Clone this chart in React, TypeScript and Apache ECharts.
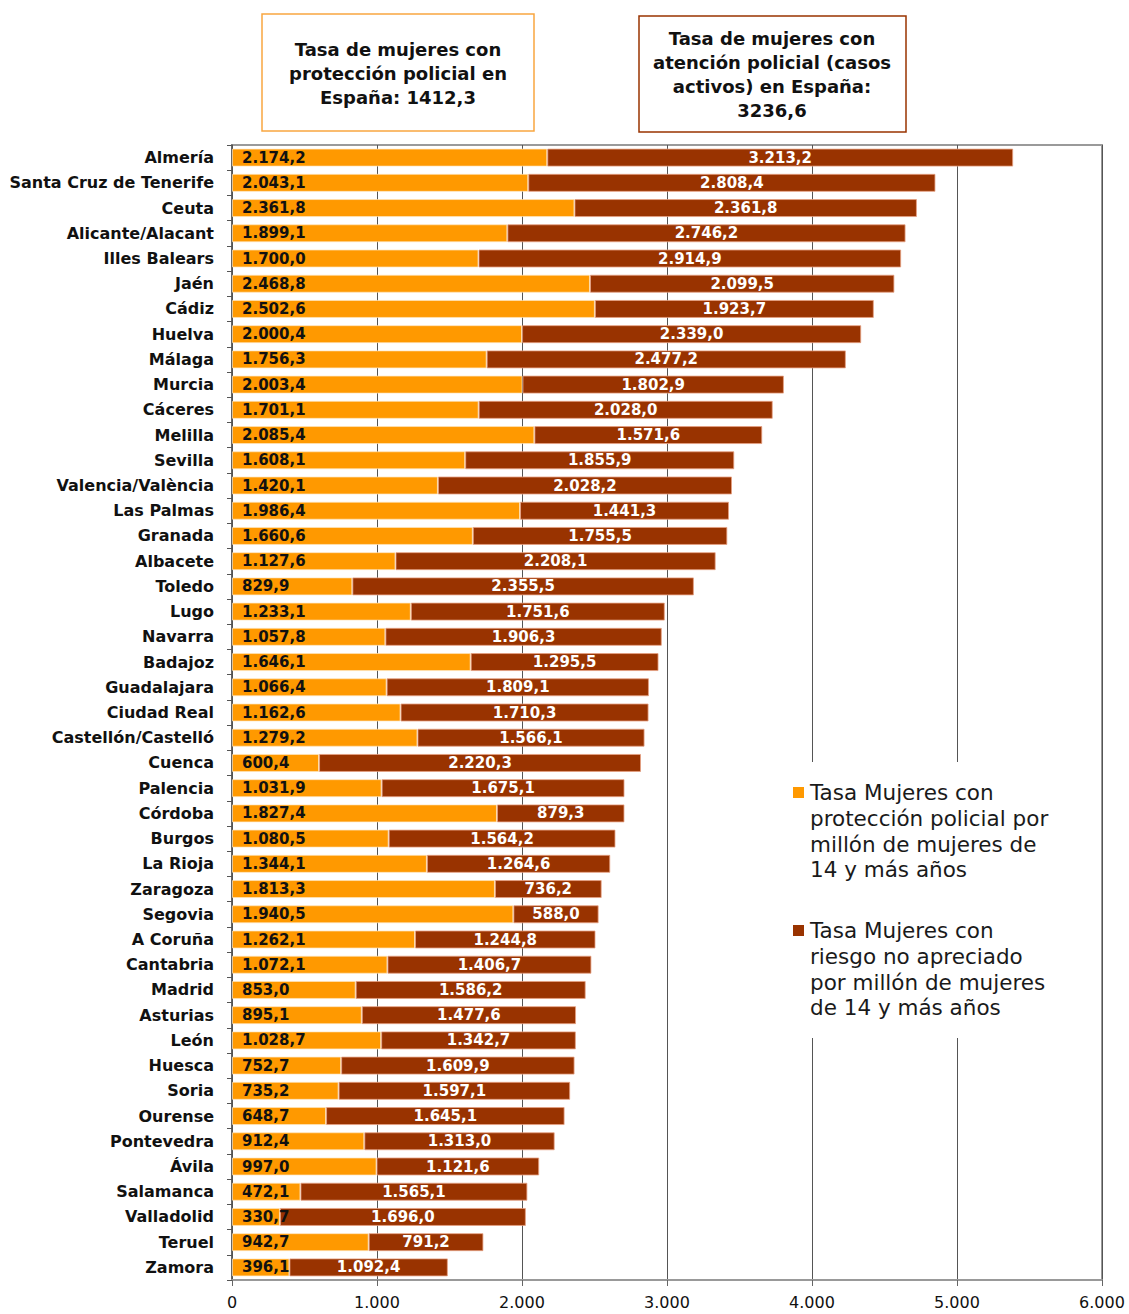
import React, { useEffect, useRef } from "react";
import * as echarts from "echarts";

const categories = [
  "Almería", "Santa Cruz de Tenerife", "Ceuta", "Alicante/Alacant", "Illes Balears",
  "Jaén", "Cádiz", "Huelva", "Málaga", "Murcia", "Cáceres", "Melilla", "Sevilla",
  "Valencia/València", "Las Palmas", "Granada", "Albacete", "Toledo", "Lugo", "Navarra",
  "Badajoz", "Guadalajara", "Ciudad Real", "Castellón/Castelló", "Cuenca", "Palencia",
  "Córdoba", "Burgos", "La Rioja", "Zaragoza", "Segovia", "A Coruña", "Cantabria",
  "Madrid", "Asturias", "León", "Huesca", "Soria", "Ourense", "Pontevedra", "Ávila",
  "Salamanca", "Valladolid", "Teruel", "Zamora",
];

const proteccion = [
  2174.2, 2043.1, 2361.8, 1899.1, 1700.0, 2468.8, 2502.6, 2000.4, 1756.3, 2003.4,
  1701.1, 2085.4, 1608.1, 1420.1, 1986.4, 1660.6, 1127.6, 829.9, 1233.1, 1057.8,
  1646.1, 1066.4, 1162.6, 1279.2, 600.4, 1031.9, 1827.4, 1080.5, 1344.1, 1813.3,
  1940.5, 1262.1, 1072.1, 853.0, 895.1, 1028.7, 752.7, 735.2, 648.7, 912.4,
  997.0, 472.1, 330.7, 942.7, 396.1,
];

const riesgoNoApreciado = [
  3213.2, 2808.4, 2361.8, 2746.2, 2914.9, 2099.5, 1923.7, 2339.0, 2477.2, 1802.9,
  2028.0, 1571.6, 1855.9, 2028.2, 1441.3, 1755.5, 2208.1, 2355.5, 1751.6, 1906.3,
  1295.5, 1809.1, 1710.3, 1566.1, 2220.3, 1675.1, 879.3, 1564.2, 1264.6, 736.2,
  588.0, 1244.8, 1406.7, 1586.2, 1477.6, 1342.7, 1609.9, 1597.1, 1645.1, 1313.0,
  1121.6, 1565.1, 1696.0, 791.2, 1092.4,
];

const seriesNames = [
  "Tasa Mujeres con protección policial por millón de mujeres de 14 y más años",
  "Tasa Mujeres con riesgo no apreciado por millón de mujeres de 14 y más años",
];

const legendLines1 = ["Tasa Mujeres con", "protección policial por", "millón de mujeres de", "14 y más años"];
const legendLines2 = ["Tasa Mujeres con", "riesgo no apreciado", "por millón de mujeres", "de 14 y más años"];

const box1Lines = ["Tasa de mujeres con", "protección policial en", "España: 1412,3"];
const box2Lines = ["Tasa de mujeres con", "atención policial (casos", "activos) en España:", "3236,6"];

const ORANGE = "#FF9900";
const BROWN = "#993300";
const FONT = "DejaVu Sans";

function groupThousands(s: string): string {
  return s.replace(/\B(?=(\d{3})+(?!\d))/g, ".");
}
function fmt1(v: number): string {
  const [i, d] = v.toFixed(1).split(".");
  return groupThousands(i) + "," + d;
}
function fmt0(v: number): string {
  return groupThousands(String(Math.round(v)));
}

export default function App() {
  const ref = useRef<HTMLDivElement>(null);

  useEffect(() => {
    document.body.style.margin = "0";
    if (!ref.current) return;
    const chart = echarts.init(ref.current, undefined, { renderer: "svg" });

    const legendText = (lines: string[], x: number, y: number) => ({
      type: "text",
      x,
      y,
      z: 101,
      style: {
        text: lines.join("\n"),
        fontFamily: FONT,
        fontSize: 21.5,
        lineHeight: 25.7,
        fill: "#1a1a1a",
        textVerticalAlign: "top",
      },
    });

    const boxText = (lines: string[], cx: number, cy: number) => ({
      type: "text",
      x: cx,
      y: cy,
      style: {
        text: lines.join("\n"),
        fontFamily: FONT,
        fontWeight: "bold",
        fontSize: 18,
        lineHeight: 24,
        fill: "#111",
        align: "center",
        verticalAlign: "middle",
      },
    });

    chart.setOption({
      animation: false,
      backgroundColor: "#ffffff",
      textStyle: { fontFamily: FONT },
      grid: {
        left: 232,
        right: 27,
        top: 145,
        bottom: 34,
        show: true,
        borderColor: "#9a9a9a",
        borderWidth: 2,
        backgroundColor: "transparent",
      },
      xAxis: {
        type: "value",
        min: 0,
        max: 6000,
        interval: 1000,
        axisLine: { show: true, lineStyle: { color: "#999", width: 2 } },
        axisTick: { show: true, length: 6, lineStyle: { color: "#666" } },
        axisLabel: {
          formatter: (v: number) => fmt0(v),
          fontFamily: FONT,
          fontSize: 16,
          color: "#111",
          margin: 14,
        },
        splitLine: { show: true, lineStyle: { color: "#555", width: 1 } },
      },
      yAxis: {
        type: "category",
        data: categories,
        inverse: true,
        axisLine: { show: true, lineStyle: { color: "#555", width: 1.5 } },
        axisTick: { show: true, length: 5, alignWithLabel: false, lineStyle: { color: "#555" } },
        axisLabel: {
          fontFamily: FONT,
          fontWeight: "bold",
          fontSize: 16,
          color: "#111",
          margin: 18,
        },
        splitLine: { show: false },
      },
      series: [
        {
          name: seriesNames[0],
          type: "bar",
          stack: "total",
          barWidth: 18,
          data: proteccion,
          itemStyle: { color: ORANGE, borderColor: "rgba(255,230,190,0.7)", borderWidth: 1 },
          label: {
            show: true,
            position: "insideLeft",
            distance: 10,
            formatter: (p: any) => fmt1(p.value),
            fontFamily: FONT,
            fontWeight: "bold",
            fontSize: 15,
            color: "#111",
          },
        },
        {
          name: seriesNames[1],
          type: "bar",
          stack: "total",
          barWidth: 18,
          data: riesgoNoApreciado,
          itemStyle: { color: BROWN, borderColor: "rgba(230,160,130,0.8)", borderWidth: 1 },
          label: {
            show: true,
            position: "inside",
            formatter: (p: any) => fmt1(p.value),
            fontFamily: FONT,
            fontWeight: "bold",
            fontSize: 15,
            color: "#ffffff",
          },
        },
      ],
      graphic: [
        {
          type: "rect",
          shape: { x: 262, y: 14, width: 272, height: 117 },
          style: { fill: "#fff", stroke: "#F9A640", lineWidth: 1.5 },
        },
        boxText(box1Lines, 398, 73),
        {
          type: "rect",
          shape: { x: 639, y: 16, width: 267, height: 116 },
          style: { fill: "#fff", stroke: BROWN, lineWidth: 1.5 },
        },
        boxText(box2Lines, 772, 74),
        {
          type: "rect",
          z: 100,
          shape: { x: 786, y: 762, width: 314, height: 276 },
          style: { fill: "#fff" },
        },
        {
          type: "rect",
          z: 101,
          shape: { x: 793, y: 787, width: 11, height: 11 },
          style: { fill: ORANGE },
        },
        legendText(legendLines1, 810, 780),
        {
          type: "rect",
          z: 101,
          shape: { x: 793, y: 925, width: 11, height: 11 },
          style: { fill: BROWN },
        },
        legendText(legendLines2, 810, 918),
      ],
    });

    return () => chart.dispose();
  }, []);

  return (
    <div
      ref={ref}
      style={{ position: "absolute", left: 0, top: 0, width: 1129, height: 1314 }}
    />
  );
}
